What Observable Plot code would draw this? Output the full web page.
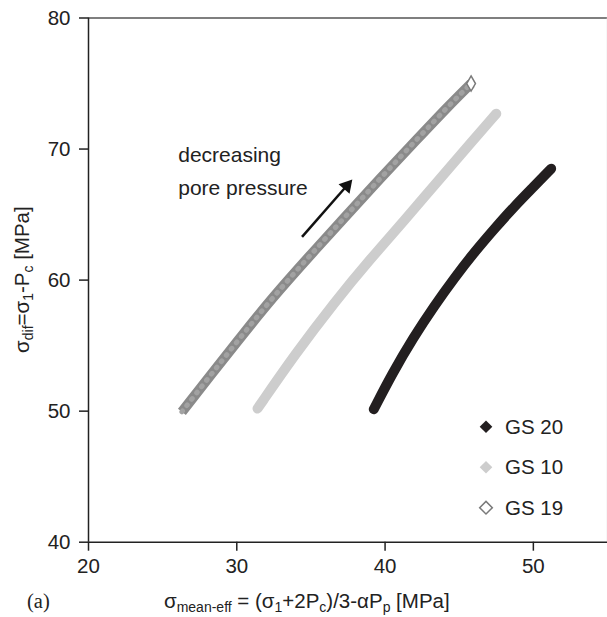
<!DOCTYPE html>
<html>
<head>
<meta charset="utf-8">
<script src="https://cdn.jsdelivr.net/npm/d3@7"></script>
<script src="https://cdn.jsdelivr.net/npm/@observablehq/plot@0.6"></script>
<style>
  html, body { margin: 0; padding: 0; background: #fff; }
  #chart { width: 607px; height: 617px; }
</style>
</head>
<body>
<div id="chart"></div>
<script>
// ---- data ----
const gs20x = [39.24, 40.5, 41.9, 43.3, 44.7, 46.0, 47.4, 48.7, 50.0, 51.2];
const gs20y = [50.15, 52.9, 55.6, 58.0, 60.2, 62.1, 63.95, 65.6, 67.1, 68.5];
const gs10x = [31.4, 33.9, 36.65, 39.0, 41.26, 43.6, 45.87, 47.5];
const gs10y = [50.2, 54.3, 58.4, 61.6, 64.5, 67.6, 70.6, 72.7];
const gs19x = [26.3, 28.2, 30.3, 32.4, 34.8, 37.2, 39.7, 42.2, 44.2, 45.8];
const gs19y = [49.95, 52.7, 55.7, 58.65, 61.7, 64.7, 67.8, 70.8, 73.2, 75.0];
const seriesNames = ["GS 20", "GS 10", "GS 19"];
const xTicks = [20, 30, 40, 50];
const yTicks = [40, 50, 60, 70, 80];
const xDomain = [20, 55];
const yDomain = [40, 80];
// annotation (arrow tail -> head, text anchor) in data units
const arrowX = [34.4, 37.42];
const arrowY = [63.3, 67.2];
const noteLines = ["decreasing", "pore pressure"];
const noteX = [26.05, 26.05];
const noteY = [69.5, 67.0];

const toRows = (xs, ys) => xs.map((x, i) => ({x, y: ys[i]}));
const gs20 = toRows(gs20x, gs20y);
const gs10 = toRows(gs10x, gs10y);
const gs19 = toRows(gs19x, gs19y);
const arrow = [{x1: arrowX[0], y1: arrowY[0], x2: arrowX[1], y2: arrowY[1]}];
const notes = noteLines.map((t, i) => ({t, x: noteX[i], y: noteY[i]}));

const FONT = "Liberation Sans, Arial, sans-serif";

const plot = Plot.plot({
  width: 607,
  height: 617,
  marginLeft: 88,
  marginRight: 0,
  marginTop: 17.5,
  marginBottom: 75.3,
  style: {fontFamily: FONT, background: "white", color: "#222", overflow: "visible"},
  x: {domain: xDomain},
  y: {domain: yDomain},
  marks: [
    // frame
    Plot.ruleY([yDomain[1]], {stroke: "#555", strokeWidth: 1.5}),
    Plot.ruleX([xDomain[1]], {stroke: "#ddd", strokeWidth: 1.5}),
    Plot.ruleX([xDomain[0]], {stroke: "#222", strokeWidth: 1.5}),
    Plot.ruleY([yDomain[0]], {stroke: "#222", strokeWidth: 1.5}),
    Plot.axisX({ticks: xTicks, tickSize: 9, tickPadding: 7, fontSize: 20.5, label: null, stroke: "#222", strokeWidth: 1.5, fill: "#222"}),
    Plot.axisY({ticks: yTicks, tickSize: 9, tickPadding: 9, fontSize: 20.5, label: null, stroke: "#222", strokeWidth: 1.5, fill: "#222"}),
    // GS 19 (open diamonds, dense -> gray band)
    Plot.line(gs19, {x: "x", y: "y", stroke: "#8a8a8a", strokeWidth: 10, strokeLinecap: "butt", curve: "basis"}),
    Plot.line(gs19, {x: "x", y: "y", stroke: "#a2a2a2", strokeWidth: 5, strokeDasharray: "1,7", curve: "basis"}),
    Plot.dot(gs19.slice(-1), {x: "x", y: "y", symbol: "diamond", r: 4.6, fill: "white", stroke: "#7a7a7a", strokeWidth: 1.5}),
    // GS 10 (light gray diamonds)
    Plot.line(gs10, {x: "x", y: "y", stroke: "#cdcdcd", strokeWidth: 10, strokeLinecap: "round", curve: "basis"}),
    // GS 20 (black diamonds)
    Plot.line(gs20, {x: "x", y: "y", stroke: "#231f20", strokeWidth: 10, strokeLinecap: "round", curve: "basis"}),
    // annotation
    Plot.link(arrow, {x1: "x1", y1: "y1", x2: "x2", y2: "y2", stroke: "#111", strokeWidth: 2.5}),
    Plot.dot(arrow, {x: "x2", y: "y2", symbol: "triangle", r: 5.4, fill: "#111", stroke: null, rotate: 41}),
    Plot.text(notes, {x: "x", y: "y", text: "t", textAnchor: "start", fontSize: 21, fill: "#222", fontFamily: FONT})
  ]
});

document.getElementById("chart").appendChild(plot);

const svg = d3.select(plot);

// y-axis title: σdif=σ1-Pc [MPa]
const yt = svg.append("text")
  .attr("transform", "translate(29,279.6) rotate(-90)")
  .attr("text-anchor", "middle")
  .attr("font-family", FONT)
  .attr("font-size", 20.5)
  .attr("fill", "#222");
[["σ", 0], ["dif", 1], ["=σ", 0], ["1", 1], ["-P", 0], ["c", 1], [" [MPa]", 0]].forEach(([t, sub]) => {
  yt.append("tspan").attr("font-size", sub ? 14 : 20.5).attr("baseline-shift", sub ? "-25%" : null).text(t);
});

// x-axis title: σmean-eff = (σ1+2Pc)/3-αPp [MPa]
const xt = svg.append("text")
  .attr("x", 164).attr("y", 608)
  .attr("text-anchor", "start")
  .attr("font-family", FONT)
  .attr("font-size", 20.5)
  .attr("fill", "#222");
[["σ", 0], ["mean-eff", 1], [" = (σ", 0], ["1", 1], ["+2P", 0], ["c", 1], [")/3-αP", 0], ["p", 1], [" [MPa]", 0]].forEach(([t, sub]) => {
  xt.append("tspan").attr("font-size", sub ? 14 : 20.5).attr("baseline-shift", sub ? "-25%" : null).text(t);
});

// panel label
svg.append("text").attr("x", 27).attr("y", 608)
  .attr("text-anchor", "start")
  .attr("font-family", "Liberation Serif, Times New Roman, serif")
  .attr("font-size", 20.5).attr("fill", "#222").text("(a)");

// legend
const legendStyle = [
  {fill: "#231f20", stroke: "none"},
  {fill: "#cdcdcd", stroke: "none"},
  {fill: "white", stroke: "#7a7a7a"}
];
const diamond = d3.symbol(d3.symbolSquare, 80)();
seriesNames.forEach((name, i) => {
  const cy = 426.7 + i * 40.5;
  svg.append("path").attr("d", diamond)
    .attr("transform", `translate(486,${cy}) rotate(45)`)
    .attr("fill", legendStyle[i].fill)
    .attr("stroke", legendStyle[i].stroke)
    .attr("stroke-width", 1.5);
  svg.append("text").attr("x", 505).attr("y", cy).attr("dy", "0.35em")
    .attr("text-anchor", "start")
    .attr("font-family", FONT).attr("font-size", 20.5).attr("fill", "#222").text(name);
});
</script>
</body>
</html>
